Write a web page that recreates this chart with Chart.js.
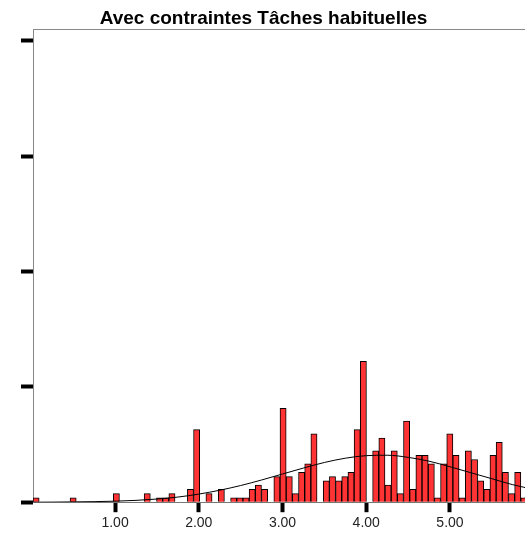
<!DOCTYPE html>
<html>
<head>
<meta charset="utf-8">
<script src="https://cdn.jsdelivr.net/npm/chart.js@4"></script>
<style>
  html, body { margin: 0; padding: 0; background: #fff; overflow: hidden; }
  #wrap { width: 527px; height: 536px; }
</style>
</head>
<body>
<div id="wrap"><canvas id="chart" width="527" height="536"></canvas></div>
<script>
const title = 'Avec contraintes Tâches habituelles'

// frequency of each histogram bin, left to right (bins ~0.074 wide)
const counts = [
  1, 0, 0, 0, 0, 0, 1, 0, 0, 0,
  0, 0, 0, 2, 0, 0, 0, 0, 2, 0,
  1, 1, 2, 0, 0, 3, 17, 0, 2, 0,
  3, 0, 1, 1, 1, 3, 4, 3, 0, 6,
  22, 6, 2, 7, 9, 16, 0, 5, 6, 5,
  6, 7, 17, 33, 0, 12, 15, 4, 12, 2,
  19, 3, 11, 11, 9, 1, 9, 16, 11, 1,
  12, 10, 5, 3, 11, 14, 7, 2, 7, 1
]
const binRange = [0.02, 5.92]

// normal curve
const curveX = [0, 0.25, 0.5, 0.75, 1, 1.25, 1.5, 1.75, 2, 2.25, 2.5, 2.75, 3,
  3.25, 3.5, 3.75, 4, 4.25, 4.5, 4.75, 5, 5.25, 5.5, 5.75, 6]
const curveY = [0, 0.02, 0.07, 0.13, 0.24, 0.43, 0.74, 1.2, 1.9, 2.8, 3.9, 5.2, 6.6,
  8.0, 9.3, 10.3, 10.9, 11.0, 10.5, 9.6, 8.3, 6.9, 5.5, 4.1, 3.0]

const xTicks = [1, 2, 3, 4, 5]
const yTicks = [0, 27, 54, 81, 108]
const yMax = 110.8

const font = 'Liberation Sans, Arial, Helvetica, sans-serif'

// top edge of the plot frame
const frame = {
  id: 'frame',
  afterDraw(c) {
    const { ctx, chartArea: a } = c
    ctx.save()
    ctx.strokeStyle = '#888'
    ctx.lineWidth = 1
    ctx.beginPath()
    ctx.moveTo(a.left, a.top + 0.5)
    ctx.lineTo(a.right, a.top + 0.5)
    ctx.stroke()
    ctx.restore()
  }
}

new Chart(document.getElementById('chart'), {
  type: 'bar',
  data: {
    labels: counts.map((_, i) => i),
    datasets: [
      {
        type: 'line',
        data: curveX.map((x, i) => ({ x, y: curveY[i] })),
        xAxisID: 'x',
        borderColor: '#000',
        borderWidth: 1,
        pointRadius: 0,
        cubicInterpolationMode: 'monotone',
        order: 1
      },
      {
        type: 'bar',
        data: counts,
        xAxisID: 'bins',
        backgroundColor: '#ff3333',
        borderColor: '#000',
        borderWidth: 1,
        // not grouped: the curve sits on its own x axis and would halve the bars
        grouped: false,
        barPercentage: 1,
        categoryPercentage: 1,
        order: 2
      }
    ]
  },
  options: {
    responsive: false,
    animation: false,
    layout: { padding: { left: 0, right: 0, top: 0, bottom: 1 } },
    plugins: {
      legend: { display: false },
      tooltip: { enabled: false },
      title: {
        display: true,
        text: title,
        color: '#000',
        font: { family: font, size: 19, weight: 'bold', lineHeight: 1 },
        padding: { top: 9, bottom: 1 }
      }
    },
    scales: {
      bins: { type: 'category', axis: 'x', display: false, offset: true },
      x: {
        type: 'linear',
        position: 'bottom',
        min: binRange[0],
        max: binRange[1],
        offset: false,
        afterBuildTicks: (s) => { s.ticks = xTicks.map(v => ({ value: v })) },
        ticks: {
          callback: (v) => Number(v).toFixed(2),
          color: '#222',
          font: { family: font, size: 14 },
          padding: 3,
          maxRotation: 0,
          autoSkip: false
        },
        grid: { offset: false, drawOnChartArea: false, tickLength: 10, tickWidth: 4, tickColor: '#000' },
        border: { color: '#777' }
      },
      y: {
        min: 0,
        max: yMax,
        afterBuildTicks: (s) => { s.ticks = yTicks.map(v => ({ value: v })) },
        afterFit: (s) => { s.width = 33 },
        ticks: { display: false },
        grid: { drawOnChartArea: false, tickLength: 12, tickWidth: 4, tickColor: '#000' },
        border: { color: '#888' }
      }
    }
  },
  plugins: [frame]
})
</script>
</body>
</html>
